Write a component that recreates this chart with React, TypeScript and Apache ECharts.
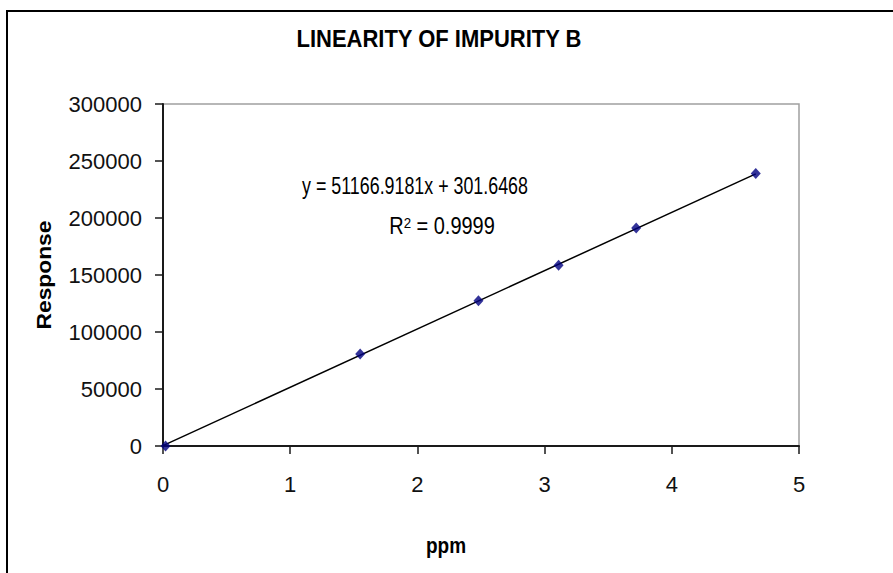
import React, { useEffect, useRef } from "react";
import * as echarts from "echarts";

const ppm = [0.02, 1.55, 2.48, 3.11, 3.72, 4.66];
const response = [0, 80800, 127500, 158500, 191200, 239000];
const slope = 51166.9181;
const intercept = 301.6468;
const titleText = "LINEARITY OF IMPURITY B";
const eqText = "y = 51166.9181x + 301.6468";
const r2Value = "0.9999";
const xAxisTitle = "ppm";
const yAxisTitle = "Response";

export default function App() {
  const ref = useRef<HTMLDivElement>(null);
  useEffect(() => {
    if (!ref.current) return;
    const chart = echarts.init(ref.current, null, { renderer: "svg" });
    const xMax = Math.max(...ppm);
    const trend = [
      [0, intercept],
      [xMax, slope * xMax + intercept],
    ];
    const font = "'Liberation Sans', Arial, sans-serif";
    chart.setOption({
      animation: false,
      backgroundColor: "#ffffff",
      grid: {
        left: 163,
        top: 104,
        width: 636,
        height: 342,
        show: true,
        borderColor: "#a0a0a0",
        borderWidth: 1.5,
        backgroundColor: "#ffffff",
      },
      xAxis: {
        type: "value",
        min: 0,
        max: 5,
        interval: 1,
        axisLine: { show: true, onZero: false, lineStyle: { color: "#1a1a1a", width: 2 } },
        axisTick: { show: true, inside: false, length: 8, lineStyle: { color: "#1a1a1a", width: 1.5 } },
        splitLine: { show: false },
        axisLabel: { color: "#111", fontFamily: font, fontSize: 22, margin: 27, formatter: (v: number) => String(v) },
      },
      yAxis: {
        type: "value",
        min: 0,
        max: 300000,
        interval: 50000,
        axisLine: { show: true, onZero: false, lineStyle: { color: "#1a1a1a", width: 2 } },
        axisTick: { show: true, inside: false, length: 8, lineStyle: { color: "#1a1a1a", width: 1.5 } },
        splitLine: { show: false },
        axisLabel: { color: "#111", fontFamily: font, fontSize: 22, margin: 21, formatter: (v: number) => String(v) },
      },
      graphic: [
        {
          type: "rect",
          shape: { x: 7, y: 11, width: 1000, height: 1000 },
          style: { fill: "none", stroke: "#000", lineWidth: 2 },
          z: 100,
        },
        {
          type: "text",
          x: 439,
          y: 39,
          scaleY: 1.08,
          style: {
            text: titleText,
            fill: "#000",
            font: `bold 22px ${font}`,
            align: "center",
            verticalAlign: "middle",
          },
        },
        {
          type: "text",
          x: 415,
          y: 186,
          scaleX: 0.85,
          scaleY: 1.1,
          style: {
            text: eqText,
            fill: "#000",
            font: `21px ${font}`,
            align: "center",
            verticalAlign: "middle",
          },
          z: 50,
        },
        {
          type: "text",
          x: 442,
          y: 226,
          scaleX: 0.95,
          scaleY: 1.1,
          style: {
            text: "R{sup|2} = " + r2Value,
            fill: "#000",
            font: `21px ${font}`,
            align: "center",
            verticalAlign: "middle",
            rich: {
              sup: { fontSize: 14, verticalAlign: "top", fontFamily: font, fill: "#000", lineHeight: 14 },
            },
          },
          z: 50,
        },
        {
          type: "text",
          x: 446,
          y: 545,
          scaleY: 1.15,
          style: {
            text: xAxisTitle,
            fill: "#000",
            font: `bold 19px ${font}`,
            align: "center",
            verticalAlign: "middle",
          },
        },
        {
          type: "text",
          x: 44,
          y: 275,
          rotation: Math.PI / 2,
          scaleX: 1.2,
          scaleY: 1.05,
          style: {
            text: yAxisTitle,
            fill: "#000",
            font: `bold 19px ${font}`,
            align: "center",
            verticalAlign: "middle",
          },
        },
      ],
      series: [
        {
          type: "line",
          data: trend,
          symbol: "none",
          lineStyle: { color: "#000", width: 1.5 },
          z: 2,
          silent: true,
        },
        {
          type: "scatter",
          data: ppm.map((x, i) => [x, response[i]]),
          symbol: "diamond",
          symbolSize: [10, 11],
          itemStyle: { color: "#000080" },
          z: 3,
        },
      ],
    });
    return () => chart.dispose();
  }, []);
  return (
    <div
      ref={ref}
      style={{ position: "absolute", left: 0, top: 0, width: 893, height: 573 }}
    />
  );
}
